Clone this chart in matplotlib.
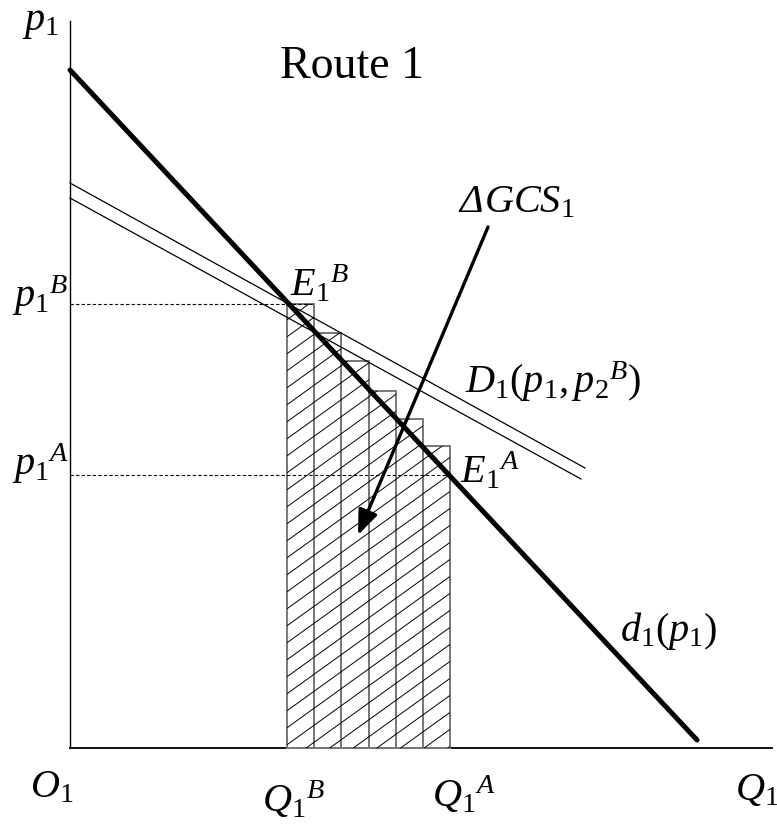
import matplotlib
matplotlib.use('Agg')
import matplotlib.pyplot as plt
from matplotlib.patches import Rectangle
from matplotlib.collections import LineCollection
import numpy as np

plt.rcParams['mathtext.fontset'] = 'custom'
plt.rcParams['mathtext.rm'] = 'Liberation Serif'
plt.rcParams['mathtext.it'] = 'Liberation Serif:italic'
plt.rcParams['font.family'] = ['Liberation Serif', 'DejaVu Serif']

# demand curve d1(p1): endpoints (Q, p)
d_line_q = [0, 627]
d_line_p = [678, 8]
# the two D1(p1, p2^B) lines
D_upper_q = [0, 515]
D_upper_p = [565, 280]
D_lower_q = [0, 511]
D_lower_p = [550, 269]
# hatched bars between Q1^B and Q1^A
bar_edges = [217, 244, 271, 299, 326, 353, 380]
bar_tops = [444, 415, 387, 357, 329, 302]
# price levels
p1_B = 444
p1_A = 273
# axes extent
x_axis_end = 702
y_axis_end = 727

fig = plt.figure(figsize=(7.77, 8.25), dpi=100)
ax = fig.add_axes([0, 0, 1, 1])
ax.set_xlim(-70, 707)
ax.set_ylim(-77, 748)
ax.axis('off')

# axes
ax.plot([0, 0], [0, y_axis_end], color='k', lw=1.0)
ax.plot([0, x_axis_end], [0, 0], color='k', lw=1.3)

# bars with hand-drawn hatch
slope = 0.72
spacing = 17
for i, top in enumerate(bar_tops):
    left, right = bar_edges[i], bar_edges[i + 1]
    rect = Rectangle((left, 0), right - left, top, facecolor='white',
                     edgecolor='#777777', lw=1.4, zorder=2)
    ax.add_patch(rect)
    segs = []
    c0 = -slope * right
    for c in np.arange(np.floor(c0 / spacing) * spacing, top + spacing, spacing):
        segs.append([(left, c + slope * left), (right, c + slope * right)])
    lc = LineCollection(segs, colors='k', linewidths=0.7, zorder=3)
    ax.add_collection(lc)
    lc.set_clip_path(rect)

# dashed price lines
ax.plot([0, bar_edges[1]], [p1_B, p1_B], color='k', lw=0.8, ls=(0, (3, 2)))
ax.plot([0, bar_edges[-1]], [p1_A, p1_A], color='k', lw=0.8, ls=(0, (3, 2)))

# D lines
ax.plot(D_upper_q, D_upper_p, color='k', lw=0.9, zorder=4)
ax.plot(D_lower_q, D_lower_p, color='k', lw=0.9, zorder=4)

# d line
ax.plot(d_line_q, d_line_p, color='k', lw=3.6, solid_capstyle='round', zorder=5)

# arrow
ax.annotate('', xy=(288, 213), xytext=(418, 521),
            arrowprops=dict(arrowstyle='-|>,head_length=0.75,head_width=0.3',
                            lw=2.4, color='k', mutation_scale=20,
                            shrinkA=0, shrinkB=0), zorder=6)

fs = 29
ax.text(282, 670, 'Route 1', fontsize=33, ha='center', va='baseline')
ax.text(-48, 718, r'$p_1$', fontsize=fs, ha='left', va='baseline')
# italic delta drawn as plain text, rest as mathtext
ax.text(389, 536, 'Δ', fontsize=fs, fontstyle='italic', ha='left', va='baseline')
ax.text(414, 536, r'$GCS_1$', fontsize=fs, ha='left', va='baseline')
ax.text(-58, 441, r'$p_1{}^B$', fontsize=fs, ha='left', va='baseline')
ax.text(-58, 273, r'$p_1{}^A$', fontsize=fs, ha='left', va='baseline')
ax.text(220, 452, r'$E_1{}^B$', fontsize=fs, ha='left', va='baseline')
ax.text(390, 265, r'$E_1{}^A$', fontsize=fs, ha='left', va='baseline')
ax.text(395, 355, r'$D_1(p_1,p_2{}^B)$', fontsize=fs, ha='left', va='baseline')
ax.text(550, 107, r'$d_1(p_1)$', fontsize=fs, ha='left', va='baseline')
ax.text(-40, -49, r'$O_1$', fontsize=fs, ha='left', va='baseline')
ax.text(192, -64, r'$Q_1{}^B$', fontsize=fs, ha='left', va='baseline')
ax.text(362, -59, r'$Q_1{}^A$', fontsize=fs, ha='left', va='baseline')
ax.text(665, -52, r'$Q_1$', fontsize=fs, ha='left', va='baseline')

fig.savefig('out.png', dpi=100)
